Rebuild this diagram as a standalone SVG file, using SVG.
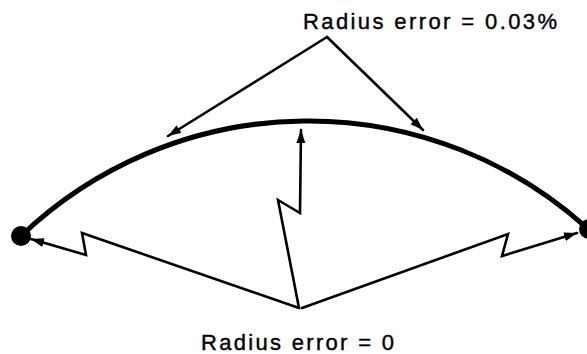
<svg xmlns="http://www.w3.org/2000/svg" width="587" height="354" viewBox="0 0 587 354">
<style>
.lbl{font-family:"Liberation Sans",Arial,Helvetica,sans-serif;font-size:22px;fill:#000;stroke:#000;stroke-width:0.4}
.ln{fill:none;stroke:#000;stroke-width:2.6;stroke-linejoin:miter;stroke-linecap:round}
</style>
<defs>
<marker id="ah" markerUnits="userSpaceOnUse" markerWidth="14" markerHeight="10" refX="13" refY="5" orient="auto">
<path d="M0,0.5 L13,5 L0,9.5 Z" fill="#000"/>
</marker>
</defs>
<rect width="587" height="354" fill="#fff"/>
<g id="arc">
<path d="M21,236 A416,416 0 0 1 588,229" fill="none" stroke="#000" stroke-width="5"/>
</g>
<g id="left-point"><circle cx="21" cy="236" r="10" fill="#000"/></g>
<g id="right-point"><circle cx="589" cy="229" r="10" fill="#000"/></g>
<g id="label-top"><text class="lbl" x="303" y="29" textLength="254" lengthAdjust="spacing">Radius error = 0.03%</text></g>
<g id="label-bottom"><text class="lbl" x="201" y="350" textLength="193" lengthAdjust="spacing">Radius error = 0</text></g>
<g id="connectors">
<path class="ln" d="M327,37 L168,136" marker-end="url(#ah)"/>
<path class="ln" d="M327,37 L423,130" marker-end="url(#ah)"/>
<path class="ln" d="M299,308 L278,200 L300,213 L301,130" marker-end="url(#ah)"/>
<path class="ln" d="M299,308 L82,233 L86,255 L31,239" marker-end="url(#ah)"/>
<path class="ln" d="M302,308 L508,234 L502,256 L577,233" marker-end="url(#ah)"/>
</g>
</svg>
